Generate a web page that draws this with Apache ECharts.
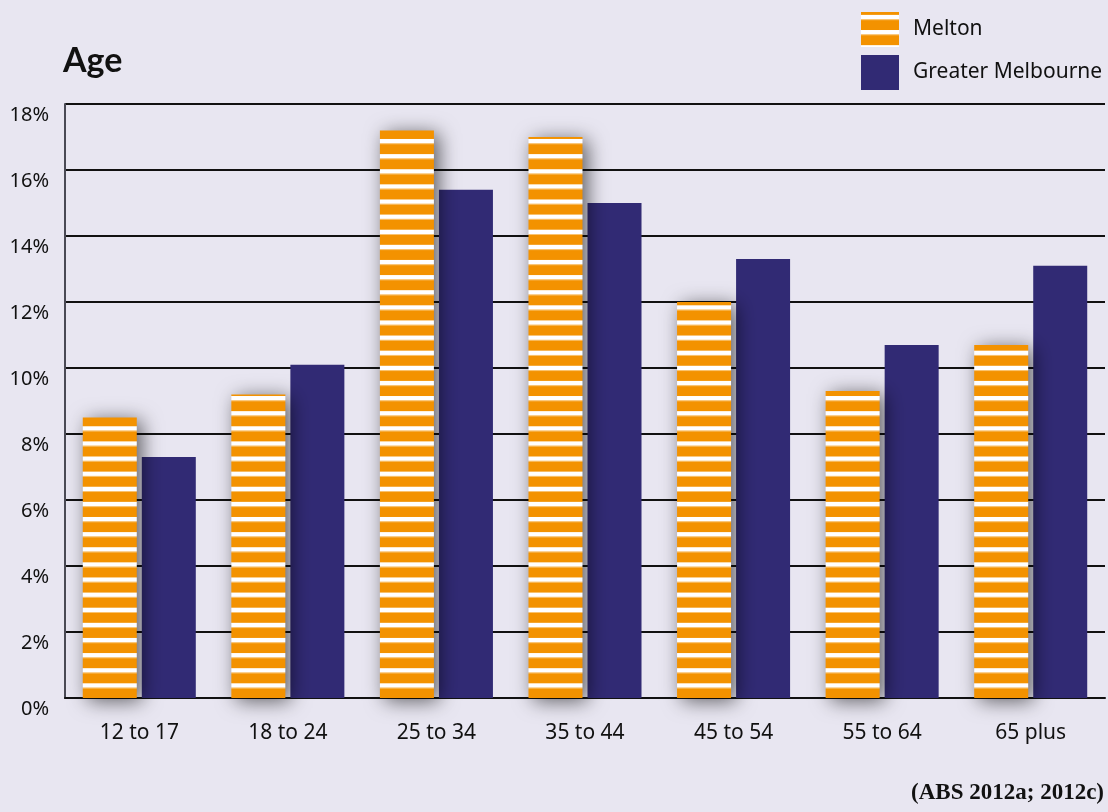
<!DOCTYPE html>
<html>
<head>
<meta charset="utf-8">
<script src="https://cdn.jsdelivr.net/npm/echarts@6/dist/echarts.min.js"></script>
<style>
html,body{margin:0;padding:0;background:#E8E6F1;}
#c{width:1108px;height:812px;}
</style>
</head>
<body>
<div id="c"></div>
<script>
var categories = ['12 to 17', '18 to 24', '25 to 34', '35 to 44', '45 to 54', '55 to 64', '65 plus'];
var meltonValues = [8.5, 9.2, 17.2, 17.0, 12.0, 9.3, 10.7];
var melbourneValues = [7.3, 10.1, 15.4, 15.0, 13.3, 10.7, 13.1];
var seriesNames = ['Melton', 'Greater Melbourne'];
var yTicks = {min: 0, max: 18, interval: 2};
var titleText = 'Age';
var sourceText = '(ABS 2012a; 2012c)';

var ORANGE = '#F39200';
var NAVY = '#312A74';

// striped fill (global, canvas-anchored)
var pc = document.createElement('canvas');
pc.width = 8; pc.height = 812;
var g = pc.getContext('2d');
g.fillStyle = ORANGE;
g.fillRect(0, 0, 8, 812);
for (var y = 2.9; y < 812; y += 15.12) {
  g.fillStyle = '#FFFFFF';
  g.fillRect(0, y, 8, 4.3);
  g.fillStyle = 'rgba(255,235,200,0.55)';
  g.fillRect(0, y + 4.3, 8, 1);
}
var stripe = {image: pc, repeat: 'repeat'};

var chart = echarts.init(document.getElementById('c'), null, {renderer: 'canvas'});
chart.setOption({
  backgroundColor: '#E8E6F1',
  animation: false,
  title: {
    text: titleText, left: 58, top: 39,
    textStyle: {fontFamily: 'Lato', fontWeight: 'bold', fontSize: 34, color: '#111'}
  },
  legend: {
    orient: 'vertical', left: 861, top: 12, padding: 0,
    itemWidth: 38, itemHeight: 35, itemGap: 8,
    icon: 'rect',
    textStyle: {fontFamily: 'Noto Sans', fontSize: 21, color: '#111', padding: [0, 0, 0, 9]},
    data: seriesNames
  },
  grid: {left: 65, right: 3, top: 104, bottom: 114, containLabel: false},
  xAxis: {
    type: 'category', data: categories,
    axisLine: {show: true, lineStyle: {color: '#111', width: 2}},
    axisTick: {show: false},
    axisLabel: {fontFamily: 'Noto Sans', fontSize: 21, color: '#111', margin: 25}
  },
  yAxis: {
    type: 'value', min: yTicks.min, max: yTicks.max, interval: yTicks.interval,
    axisLine: {show: true, lineStyle: {color: '#4a4a55', width: 2}},
    axisTick: {show: false},
    splitLine: {show: true, lineStyle: {color: '#111', width: 1.8}},
    axisLabel: {
      fontFamily: 'Noto Sans', fontSize: 20, color: '#111', margin: 16,
      formatter: '{value}%', verticalAlign: 'top', lineHeight: 22
    }
  },
  series: [
    {
      name: seriesNames[0], type: 'bar', data: meltonValues,
      barWidth: 54, barGap: '9.3%', z: 3,
      itemStyle: {
        color: stripe,
        shadowColor: 'rgba(0,0,0,0.6)', shadowBlur: 20, shadowOffsetX: 5, shadowOffsetY: 3
      }
    },
    {
      name: seriesNames[1], type: 'bar', data: melbourneValues,
      barWidth: 54, z: 2,
      itemStyle: {color: NAVY}
    }
  ],
  graphic: [
    {
      type: 'text', right: 4, top: 782,
      style: {
        text: sourceText, fontFamily: 'Liberation Serif', fontWeight: 'bold',
        fontSize: 23, fill: '#111'
      }
    }
  ]
});
</script>
</body>
</html>
